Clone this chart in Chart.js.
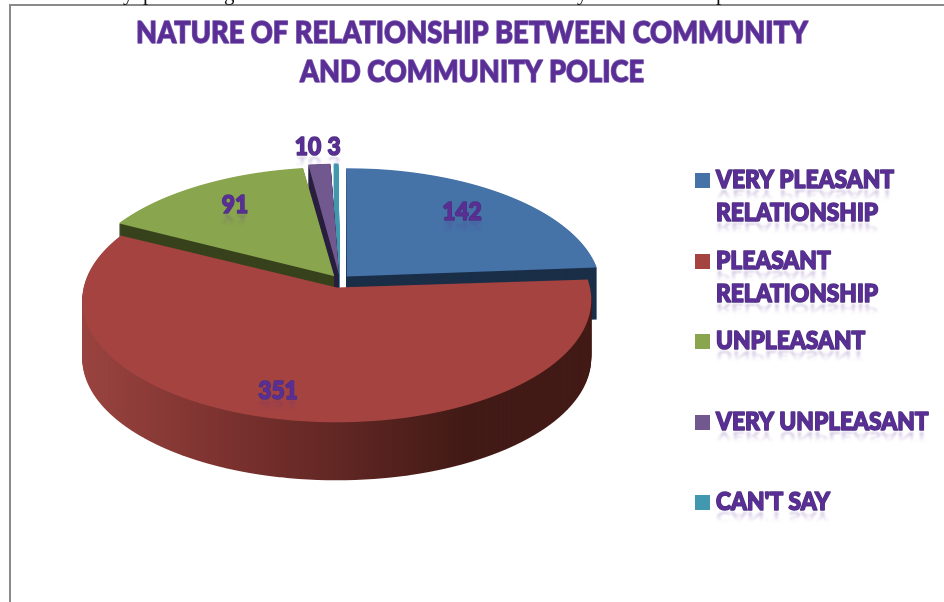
<!DOCTYPE html>
<html>
<head>
<meta charset="utf-8">
<title>Nature of relationship</title>
<script src="https://cdn.jsdelivr.net/npm/chart.js@4"></script>
<style>
    html, body { margin: 0; padding: 0; background: #fff; overflow: hidden; }
    #wrap { position: relative; width: 944px; height: 602px; }
    #frame { position: absolute; left: 9px; top: 4px; right: -4px; bottom: -4px; border: 2px solid #8a8a8a; }
    #myChart { position: absolute; left: 0; top: 0; }
</style>
</head>
<body>
<div id="wrap">
    <div id="frame"></div>
    <canvas id="myChart" width="944" height="602"></canvas>
</div>
<script>
const titleLines = ['NATURE OF RELATIONSHIP BETWEEN COMMUNITY', 'AND COMMUNITY POLICE'];
const categories = [
    ['VERY PLEASANT', 'RELATIONSHIP'],
    ['PLEASANT', 'RELATIONSHIP'],
    ['UNPLEASANT'],
    ['VERY UNPLEASANT'],
    ["CAN'T SAY"]
];
const counts = [142, 351, 91, 10, 3];

const sliceColors = ['#4572A7', '#A54340', '#89A54E', '#71588F', '#4198AF'];
const sideColors = ['#1A2E47', null, '#37421C', '#2A1F3F', '#4198AF'];
const sliceOffsets = [40, 64, 40, 40, 40];

// screen spots for the value labels and the legend rows
const valueSpots = [[462, 220], [278, 399], [235, 213], [308, 155], [334, 155]];
const legendRows = [173, 254, 334, 415, 495];
const textPurple = '#5B2E96';
const textSqueeze = 0.91;

// tilted pie: centre on screen, radii and perspective constants
const CX = 340, CY = 280, P = 0.000409, Q = 0.4745;
const farRadius = 263.5, nearRadius = 251.5;
const backDepth = 52, frontDepth = 58;

// paint one arc row by row so the far side comes out narrower than the near side
function drawTilted(ctx, arc) {
    for (let sy = 120; sy < 470; sy++) {
        const yp = sy + 0.5 - CY;
        const v = yp / (Q + P * yp);
        const w = 1 - P * v;
        const kx = 1 / w;
        const ky = Q / (w * w);
        ctx.save();
        ctx.beginPath();
        ctx.rect(0, sy, ctx.canvas.width, 1);
        ctx.clip();
        ctx.setTransform(kx, 0, 0, ky, CX - arc.x * kx, CY + yp - (arc.y + v) * ky);
        arc.draw(ctx);
        ctx.restore();
    }
}

function sideLayer(arc, i, width, height) {
    const layer = document.createElement('canvas');
    layer.width = width;
    layer.height = height;
    const lc = layer.getContext('2d');
    drawTilted(lc, arc);
    lc.globalCompositeOperation = 'source-in';
    if (sideColors[i]) {
        lc.fillStyle = sideColors[i];
    } else {
        const grad = lc.createLinearGradient(82, 0, 594, 0);
        grad.addColorStop(0, '#9A4440');
        grad.addColorStop(0.25, '#7F3431');
        grad.addColorStop(0.5, '#612724');
        grad.addColorStop(0.75, '#421A16');
        grad.addColorStop(1, '#421A16');
        lc.fillStyle = grad;
    }
    lc.fillRect(0, 0, width, height);
    return layer;
}

const tiltedPie = {
    id: 'tiltedPie',
    beforeDatasetsDraw(chart) {
        const ctx = chart.ctx;
        const arcs = chart.getDatasetMeta(0).data;
        // Arc.draw widens a slice by offset/4, so set the radius each slice should end up with
        arcs.forEach((arc, i) => {
            arc.outerRadius = (i === 1 ? nearRadius : farRadius) - sliceOffsets[i] / 4;
        });
        // far slices first, the big near slice goes on top
        [0, 4, 3, 2, 1].forEach(i => {
            const depth = i === 1 ? frontDepth : backDepth;
            const layer = sideLayer(arcs[i], i, chart.width, chart.height);
            for (let d = depth; d >= 1; d--) {
                ctx.drawImage(layer, 0, d);
            }
            drawTilted(ctx, arcs[i]);
        });
        return false;
    }
};

function reflectedText(ctx, text, x, y, maxWidth) {
    ctx.save();
    ctx.filter = 'blur(1px)';
    ctx.translate(x, y + 2);
    ctx.scale(1, -0.5);
    const fade = ctx.createLinearGradient(0, 0, 0, -20);
    fade.addColorStop(0, 'rgba(91,46,150,0.3)');
    fade.addColorStop(1, 'rgba(91,46,150,0)');
    ctx.fillStyle = fade;
    ctx.fillText(text, 0, 0, maxWidth);
    ctx.restore();
}

function labelText(ctx, text, x, y) {
    const maxWidth = ctx.measureText(text).width * textSqueeze;
    reflectedText(ctx, text, x, y, maxWidth);
    ctx.lineJoin = 'round';
    ctx.lineWidth = 1.6;
    ctx.strokeStyle = '#4A3180';
    ctx.strokeText(text, x, y, maxWidth);
    ctx.fillStyle = textPurple;
    ctx.fillText(text, x, y, maxWidth);
}

const chartTexts = {
    id: 'chartTexts',
    afterDraw(chart) {
        const ctx = chart.ctx;
        ctx.save();
        ctx.textBaseline = 'alphabetic';

        // the line of the page that runs under the top of the frame
        ctx.fillStyle = '#111';
        ctx.font = '21px "Liberation Serif"';
        [['y', 123], ['p', 143], ['g', 224], ['y', 577], ['p', 716]].forEach(([c, x]) => ctx.fillText(c, x, 0));

        // title
        ctx.textAlign = 'center';
        ctx.font = '900 30px Lato';
        ctx.lineJoin = 'round';
        titleLines.forEach((line, i) => {
            const y = 43 + i * 39;
            const maxWidth = ctx.measureText(line).width * 0.907;
            ctx.lineWidth = 1.5;
            ctx.strokeStyle = '#7A5CB0';
            ctx.strokeText(line, 472, y, maxWidth);
            ctx.fillStyle = textPurple;
            ctx.fillText(line, 472, y, maxWidth);
        });

        // value labels
        ctx.font = '900 25px Lato';
        counts.forEach((n, i) => labelText(ctx, String(n), valueSpots[i][0], valueSpots[i][1]));

        // legend
        ctx.textAlign = 'left';
        ctx.font = '900 25px Lato';
        categories.forEach((lines, i) => {
            const top = legendRows[i];
            ctx.fillStyle = sliceColors[i];
            ctx.fillRect(695, top, 15, 15);
            lines.forEach((line, j) => labelText(ctx, line, 716, top + 15 + j * 33));
        });
        ctx.restore();
    }
};

new Chart(document.getElementById('myChart'), {
    type: 'pie',
    data: {
        labels: categories,
        datasets: [{
            data: counts,
            backgroundColor: sliceColors,
            borderWidth: 0,
            offset: sliceOffsets
        }]
    },
    options: {
        responsive: false,
        animation: false,
        layout: { padding: { top: 15, bottom: 14 } },
        plugins: {
            legend: { display: false },
            title: { display: false },
            tooltip: { enabled: false }
        }
    },
    plugins: [tiltedPie, chartTexts]
});
</script>
</body>
</html>
